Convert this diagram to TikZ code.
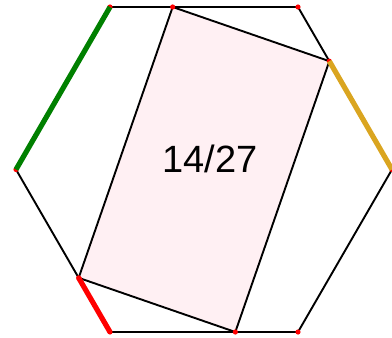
\documentclass[tikz,border=0pt]{standalone}
\usepackage{fontspec}
\setmainfont{Liberation Sans}
\usetikzlibrary{calc}
\definecolor{rectfill}{HTML}{FFF0F3}
\definecolor{goldseg}{HTML}{DAA520}
\definecolor{greenseg}{HTML}{008000}
\begin{document}
\begin{tikzpicture}[x=1pt,y=-1pt,
  edge/.style={black,line width=1.9pt,line join=miter},
  colseg/.style={line width=5.2pt},
  vdot/.style={fill=red,draw=none}]
\useasboundingbox (0,0) rectangle (392,338);
% hexagon vertices
\coordinate (A) at (110,7);
\coordinate (B) at (298,7);
\coordinate (C) at (392,169.5);
\coordinate (D) at (298,332);
\coordinate (E) at (110,332);
\coordinate (F) at (16,169.5);
% points at one third of edges
\coordinate (P) at ($(A)!1/3!(B)$);
\coordinate (Q) at ($(B)!1/3!(C)$);
\coordinate (R) at ($(D)!1/3!(E)$);
\coordinate (S) at ($(E)!1/3!(F)$);
\fill[rectfill] (P) -- (Q) -- (R) -- (S) -- cycle;
\draw[edge] (A) -- (B) -- (C) -- (D) -- (E) -- (F) -- cycle;
\draw[edge] (P) -- (Q) -- (R) -- (S) -- cycle;
\foreach \p in {A,B,C,D,E,F,P,Q,R,S} \fill[vdot] (\p) circle (2.6);
\draw[colseg,greenseg] (A) -- (F);
\draw[colseg,goldseg] (Q) -- (C);
\draw[colseg,red] (S) -- (E);
\node (lbl) at (210,159) {\fontsize{38}{44}\selectfont 14/27};
\end{tikzpicture}
\end{document}
